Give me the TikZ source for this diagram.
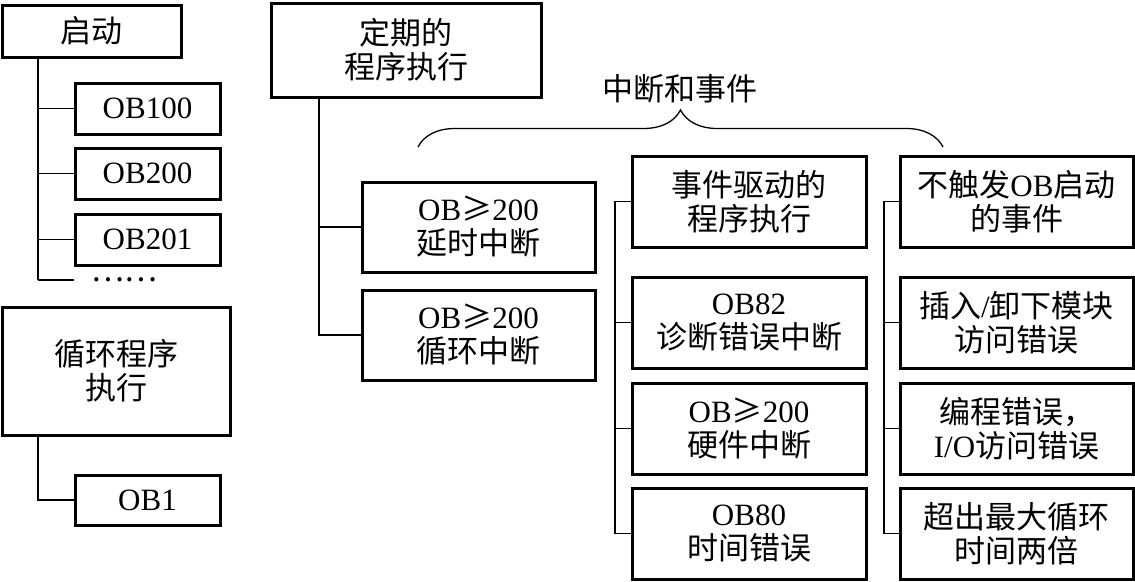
\documentclass[tikz,border=0pt]{standalone}
\usepackage{fontspec}
\setmainfont{Liberation Serif}
\newfontfamily\zhfont{Noto Sans CJK SC}
\newcommand\zh[1]{{\zhfont #1}}
\usetikzlibrary{decorations.pathreplacing}
\begin{document}
\begin{tikzpicture}[x=1pt,y=-1pt,
  box/.style={draw,line width=3pt,align=center,inner sep=0pt,
    font=\fontsize{31}{34}\selectfont},
  smallbox/.style={box,minimum width=145pt,minimum height=51pt},
  midbox/.style={box,minimum width=233pt,minimum height=90pt},
  link/.style={line width=1.3pt},
  lbl/.style={font=\fontsize{31}{34}\selectfont,inner sep=0pt}]
\useasboundingbox (0,0) rectangle (1135,581);
\fill[white] (0,0) rectangle (1135,581);

% left column
\node[box,minimum width=179pt,minimum height=52pt] (start) at (91.5,31) {\zh{启动}};
\node[smallbox] (ob100) at (147.5,108.5) {OB100};
\node[smallbox] (ob200) at (147.5,173.5) {OB200};
\node[smallbox] (ob201) at (147.5,239.5) {OB201};
\node[lbl,anchor=west] (dots) at (91,280) {\zh{……}};
\coordinate (t1) at (38,280);
\draw[link] (t1 |- start.south) -- (t1);
\draw[link] (t1 |- ob100.west) -- (ob100.west);
\draw[link] (t1 |- ob200.west) -- (ob200.west);
\draw[link] (t1 |- ob201.west) -- (ob201.west);
\draw[link] (t1) -- (t1 -| ob100.west);

\node[box,minimum width=228pt,minimum height=128pt] (cyc) at (116,371) {\zh{循环程序}\\\zh{执行}};
\node[smallbox,minimum height=50pt] (ob1) at (147.5,500) {OB1};
\draw[link] (cyc.south -| t1) |- (ob1.west);

% periodic
\node[box,minimum width=270pt,minimum height=94pt] (per) at (406,50) {\zh{定期的}\\\zh{程序执行}};
\node[midbox] (delay) at (478.5,227) {OB\zh{≥}200\\\zh{延时中断}};
\node[midbox] (cycint) at (478.5,335) {OB\zh{≥}200\\\zh{循环中断}};
\coordinate (t2) at (319,0);
\draw[link] (t2 |- per.south) |- (cycint.west);
\draw[link] (t2 |- delay.west) -- (delay.west);

% brace
\coordinate (bl) at (418,147);
\coordinate (br) at (943,147);
\draw[line width=1.3pt,decorate,decoration={brace,amplitude=37pt}] (bl) -- (br);
\node[lbl] (ie) at (680,89) {\zh{中断和事件}};

% event column
\node[midbox,minimum width=234pt,minimum height=91pt] (ev) at (749,201.5) {\zh{事件驱动的}\\\zh{程序执行}};
\node[midbox,minimum width=234pt,minimum height=91pt] (ob82) at (749,322.5) {OB82\\\zh{诊断错误中断}};
\node[midbox,minimum width=234pt,minimum height=91pt] (hw) at (749,428.5) {OB\zh{≥}200\\\zh{硬件中断}};
\node[midbox,minimum width=234pt,minimum height=91pt] (ob80) at (749,533.5) {OB80\\\zh{时间错误}};
\coordinate (t3) at (615,0);
\draw[link] (ev.west) -| (t3 |- ob80.west) -- (ob80.west);
\draw[link] (t3 |- ob82.west) -- (ob82.west);
\draw[link] (t3 |- hw.west) -- (hw.west);

% non-triggering column
\node[midbox,minimum height=91pt] (nt) at (1016.5,201.5) {\zh{不触发}OB\zh{启动}\\\zh{的事件}};
\node[midbox,minimum height=91pt] (ins) at (1016.5,322.5) {\zh{插入}/\zh{卸下模块}\\\zh{访问错误}};
\node[midbox,minimum height=91pt] (prog) at (1016.5,428.5) {\zh{编程错误，}\\I/O\zh{访问错误}};
\node[midbox,minimum height=91pt] (ovr) at (1016.5,533.5) {\zh{超出最大循环}\\\zh{时间两倍}};
\coordinate (t4) at (884,0);
\draw[link] (nt.west) -| (t4 |- ovr.west) -- (ovr.west);
\draw[link] (t4 |- ins.west) -- (ins.west);
\draw[link] (t4 |- prog.west) -- (prog.west);
\end{tikzpicture}
\end{document}
